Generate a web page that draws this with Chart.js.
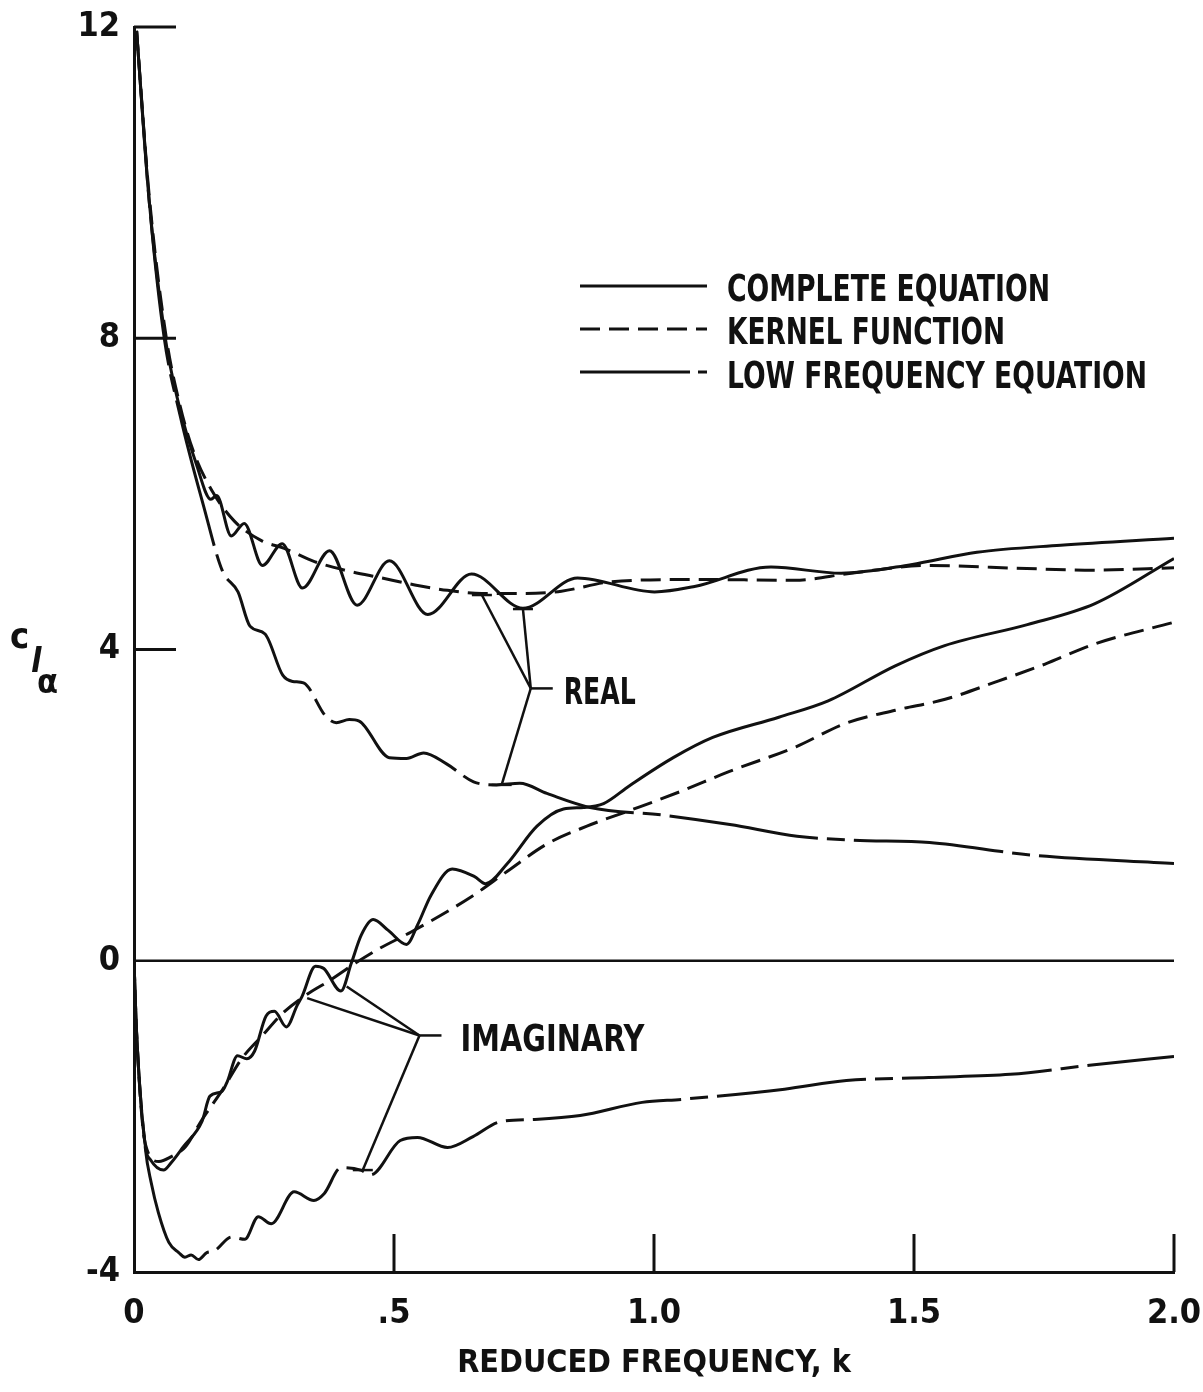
<!DOCTYPE html>
<html>
<head>
<meta charset="utf-8">
<script src="https://cdn.jsdelivr.net/npm/chart.js@4.4.1/dist/chart.umd.min.js"></script>
<style>
  html, body { margin: 0; padding: 0; background: #fff; }
  canvas { display: block; }
</style>
</head>
<body>
<canvas id="chart" width="1203" height="1392"></canvas>
<script>
const INK = '#111';
const FAMILY = "'Liberation Sans Narrow', 'DejaVu Sans Condensed', 'Liberation Sans', sans-serif";

const xTickLabels = ['0', '.5', '1.0', '1.5', '2.0'];
const yTickLabels = ['-4', '0', '4', '8', '12'];
const xMarkTicks = [0.5, 1.0, 1.5, 2.0];
const yMarkTicks = [4, 8, 12];
const xTitle = 'REDUCED FREQUENCY, k';
const legendNames = ['COMPLETE EQUATION', 'KERNEL FUNCTION', 'LOW FREQUENCY EQUATION'];

// [k, c_l_alpha] pairs
const completeReal = [
    [0.005, 11.95], [0.029, 9.78], [0.060, 8.01], [0.084, 7.21], [0.120, 6.38],
    [0.148, 5.93], [0.159, 5.98], [0.187, 5.46], [0.212, 5.62], [0.247, 5.08],
    [0.285, 5.36], [0.324, 4.79], [0.376, 5.27], [0.429, 4.57], [0.491, 5.14],
    [0.565, 4.45], [0.649, 4.97], [0.748, 4.53], [0.853, 4.92], [1.001, 4.74],
    [1.078, 4.81], [1.225, 5.06], [1.360, 4.98], [1.494, 5.09], [1.621, 5.25],
    [1.782, 5.34], [2.0, 5.43]
];
const kernelReal = [
    [0.005, 11.95], [0.029, 9.85], [0.062, 8.01], [0.088, 7.15], [0.114, 6.55],
    [0.150, 6.04], [0.193, 5.65], [0.245, 5.40], [0.289, 5.30], [0.347, 5.13],
    [0.411, 5.01], [0.476, 4.92], [0.540, 4.83], [0.603, 4.76], [0.669, 4.72],
    [0.751, 4.72], [0.822, 4.75], [0.918, 4.87], [1.078, 4.90], [1.270, 4.89],
    [1.379, 4.98], [1.525, 5.08], [1.717, 5.04], [1.846, 5.02], [2.0, 5.05]
];
const lowFreqReal = [
    [0.005, 11.95], [0.029, 9.78], [0.058, 8.01], [0.089, 7.00], [0.134, 5.84],
    [0.170, 5.01], [0.200, 4.74], [0.223, 4.30], [0.252, 4.20], [0.286, 3.67],
    [0.305, 3.59], [0.326, 3.57], [0.369, 3.14], [0.389, 3.06], [0.414, 3.10],
    [0.433, 3.08], [0.491, 2.61], [0.524, 2.60], [0.557, 2.67], [0.601, 2.53],
    [0.653, 2.30], [0.697, 2.26], [0.742, 2.28], [0.794, 2.15], [0.877, 1.97],
    [1.019, 1.87], [1.146, 1.75], [1.275, 1.60], [1.384, 1.55], [1.530, 1.52],
    [1.723, 1.36], [2.0, 1.25]
];
const completeImag = [
    [0, 0], [0.005, -0.93], [0.022, -2.39], [0.032, -2.56], [0.057, -2.69],
    [0.071, -2.60], [0.095, -2.39], [0.131, -2.06], [0.146, -1.74], [0.169, -1.68],
    [0.179, -1.56], [0.199, -1.22], [0.217, -1.26], [0.232, -1.16], [0.254, -0.71],
    [0.270, -0.65], [0.293, -0.85], [0.314, -0.57], [0.323, -0.46], [0.349, -0.07],
    [0.365, -0.10], [0.398, -0.39], [0.418, -0.03], [0.437, 0.33], [0.460, 0.53],
    [0.489, 0.39], [0.524, 0.21], [0.546, 0.47], [0.571, 0.84], [0.612, 1.18],
    [0.655, 1.08], [0.676, 0.99], [0.718, 1.25], [0.775, 1.73], [0.826, 1.95],
    [0.865, 1.97], [0.903, 2.02], [0.953, 2.25], [1.037, 2.61], [1.113, 2.87],
    [1.240, 3.13], [1.335, 3.34], [1.464, 3.79], [1.559, 4.05], [1.718, 4.32],
    [1.848, 4.59], [2.0, 5.17]
];
const kernelImag = [
    [0, 0], [0.005, -0.93], [0.022, -2.36], [0.048, -2.58], [0.071, -2.52],
    [0.099, -2.39], [0.131, -2.04], [0.171, -1.65], [0.207, -1.26], [0.247, -0.96],
    [0.285, -0.68], [0.331, -0.44], [0.375, -0.26], [0.426, -0.03], [0.470, 0.15],
    [0.533, 0.37], [0.648, 0.82], [0.718, 1.15], [0.794, 1.50], [0.871, 1.73],
    [0.953, 1.93], [1.049, 2.17], [1.144, 2.43], [1.273, 2.75], [1.368, 3.05],
    [1.464, 3.22], [1.560, 3.36], [1.656, 3.58], [1.751, 3.81], [1.847, 4.07],
    [2.0, 4.35]
];
const lowFreqImag = [
    [0, 0], [0.005, -0.93], [0.022, -2.42], [0.033, -2.85], [0.047, -3.24],
    [0.067, -3.62], [0.086, -3.75], [0.098, -3.81], [0.110, -3.78], [0.124, -3.84],
    [0.140, -3.75], [0.154, -3.73], [0.188, -3.55], [0.213, -3.58], [0.239, -3.29],
    [0.264, -3.38], [0.308, -2.97], [0.346, -3.08], [0.366, -2.99], [0.398, -2.66],
    [0.436, -2.69], [0.455, -2.75], [0.512, -2.31], [0.545, -2.27], [0.603, -2.40],
    [0.652, -2.26], [0.704, -2.07], [0.767, -2.04], [0.858, -1.99], [0.977, -1.82],
    [1.055, -1.78], [1.251, -1.65], [1.370, -1.54], [1.528, -1.50], [1.685, -1.46],
    [1.842, -1.34], [2.0, -1.23]
];
const zeroLine = [[0, 0], [2.0, 0]];

// leader lines: hub point and the curve points they point at (data units)
const realLeader = { hub: [0.763, 3.50], ends: [[0.669, 4.70], [0.748, 4.52], [0.707, 2.26]] };
const imagLeader = { hub: [0.549, -0.96], ends: [[0.409, -0.33], [0.333, -0.48], [0.440, -2.69]] };

const DASH_KERNEL = [20, 9];
const DASH_LOWFREQ = [150, 9, 18, 9];

const toXY = (pairs) => pairs.map(p => ({ x: p[0], y: p[1] }));

function curve(pairs, dash) {
    return {
        data: toXY(pairs),
        borderColor: INK,
        borderWidth: 3,
        borderDash: dash,
        pointRadius: 0,
        fill: false,
        cubicInterpolationMode: 'monotone',
    };
}

function fitText(ctx, str, x, y, w, font) {
    ctx.font = font;
    const natural = ctx.measureText(str).width;
    ctx.save();
    ctx.translate(x, y);
    ctx.scale(w / natural, 1);
    ctx.textAlign = 'left';
    ctx.textBaseline = 'alphabetic';
    ctx.fillText(str, 0, 0);
    ctx.restore();
}

function seg(ctx, x1, y1, x2, y2) {
    ctx.beginPath();
    ctx.moveTo(x1, y1);
    ctx.lineTo(x2, y2);
    ctx.stroke();
}

const decor = {
    id: 'decor',
    afterDraw(chart) {
        const ctx = chart.ctx;
        const xs = chart.scales.x;
        const ys = chart.scales.y;
        const px = v => xs.getPixelForValue(v);
        const py = v => ys.getPixelForValue(v);

        ctx.save();
        ctx.strokeStyle = INK;
        ctx.fillStyle = INK;
        ctx.lineWidth = 3;

        // inward tick marks
        yMarkTicks.forEach(v => seg(ctx, xs.left, py(v), xs.left + 42, py(v)));
        xMarkTicks.forEach(v => seg(ctx, px(v), ys.bottom, px(v), ys.bottom - 38));

        // legend
        const rows = [286, 329, 372];
        const dashes = [[], DASH_KERNEL, [110, 8, 12, 8]];
        rows.forEach((ry, i) => {
            ctx.setLineDash(dashes[i]);
            seg(ctx, 580, ry, 707, ry);
        });
        ctx.setLineDash([]);
        const tf = 'bold 38px ' + FAMILY;
        fitText(ctx, legendNames[0], 727, 301, 323, tf);
        fitText(ctx, legendNames[1], 727, 344, 278, tf);
        fitText(ctx, legendNames[2], 727, 388, 420, tf);

        // leaders
        ctx.lineWidth = 2.5;
        [realLeader, imagLeader].forEach(L => {
            const hx = px(L.hub[0]), hy = py(L.hub[1]);
            L.ends.forEach(e => seg(ctx, hx, hy, px(e[0]), py(e[1])));
            seg(ctx, hx, hy, hx + 22, hy);
        });
        // small cross bars at leader ends
        [realLeader.ends[0], realLeader.ends[1], realLeader.ends[2], imagLeader.ends[2]].forEach(e => {
            seg(ctx, px(e[0]) - 10, py(e[1]), px(e[0]) + 10, py(e[1]));
        });
        fitText(ctx, 'REAL', px(realLeader.hub[0]) + 33, py(realLeader.hub[1]) + 16, 72, tf);
        fitText(ctx, 'IMAGINARY', px(imagLeader.hub[0]) + 41, py(imagLeader.hub[1]) + 16, 184, tf);

        // y axis symbol c sub l sub alpha
        ctx.font = 'bold 36px ' + FAMILY;
        ctx.textBaseline = 'alphabetic';
        ctx.fillText('c', 10, 648);
        ctx.font = 'italic bold 34px ' + FAMILY;
        ctx.fillText('l', 31, 672);
        ctx.font = 'bold 34px ' + FAMILY;
        ctx.fillText('\u03b1', 37, 693);
        ctx.restore();
    }
};

const tickFont = { family: FAMILY, size: 34, weight: 'bold' };

new Chart(document.getElementById('chart'), {
    type: 'line',
    data: {
        datasets: [
            curve(completeReal, []),
            curve(kernelReal, DASH_KERNEL),
            curve(lowFreqReal, DASH_LOWFREQ),
            curve(completeImag, []),
            curve(kernelImag, DASH_KERNEL),
            curve(lowFreqImag, DASH_LOWFREQ),
            Object.assign(curve(zeroLine, []), { borderWidth: 2.5, cubicInterpolationMode: 'default', tension: 0 }),
        ]
    },
    options: {
        responsive: false,
        animation: false,
        devicePixelRatio: 1,
        layout: { padding: { top: 27, right: 29, left: 0, bottom: 0 } },
        plugins: {
            legend: { display: false },
            tooltip: { enabled: false },
        },
        scales: {
            x: {
                type: 'linear',
                min: 0,
                max: 2,
                grid: { display: false },
                border: { display: true, color: INK, width: 3 },
                ticks: {
                    stepSize: 0.5,
                    color: INK,
                    font: tickFont,
                    padding: 14,
                    maxRotation: 0,
                    callback: (v, i) => xTickLabels[i],
                },
                title: {
                    display: true,
                    text: xTitle,
                    color: INK,
                    font: { family: FAMILY, size: 32, weight: 'bold' },
                    padding: { top: 0, bottom: 9 },
                },
                afterFit: (s) => { s.height = 120; s.paddingLeft = 0; s.paddingRight = 0; },
            },
            y: {
                type: 'linear',
                min: -4,
                max: 12,
                grid: { display: false },
                border: { display: true, color: INK, width: 3 },
                ticks: {
                    stepSize: 4,
                    color: INK,
                    font: tickFont,
                    padding: 6,
                    callback: (v, i) => yTickLabels[i],
                },
                afterFit: (s) => { s.width = 134; s.paddingTop = 0; s.paddingBottom = 0; },
            }
        }
    },
    plugins: [decor]
});
</script>
</body>
</html>
